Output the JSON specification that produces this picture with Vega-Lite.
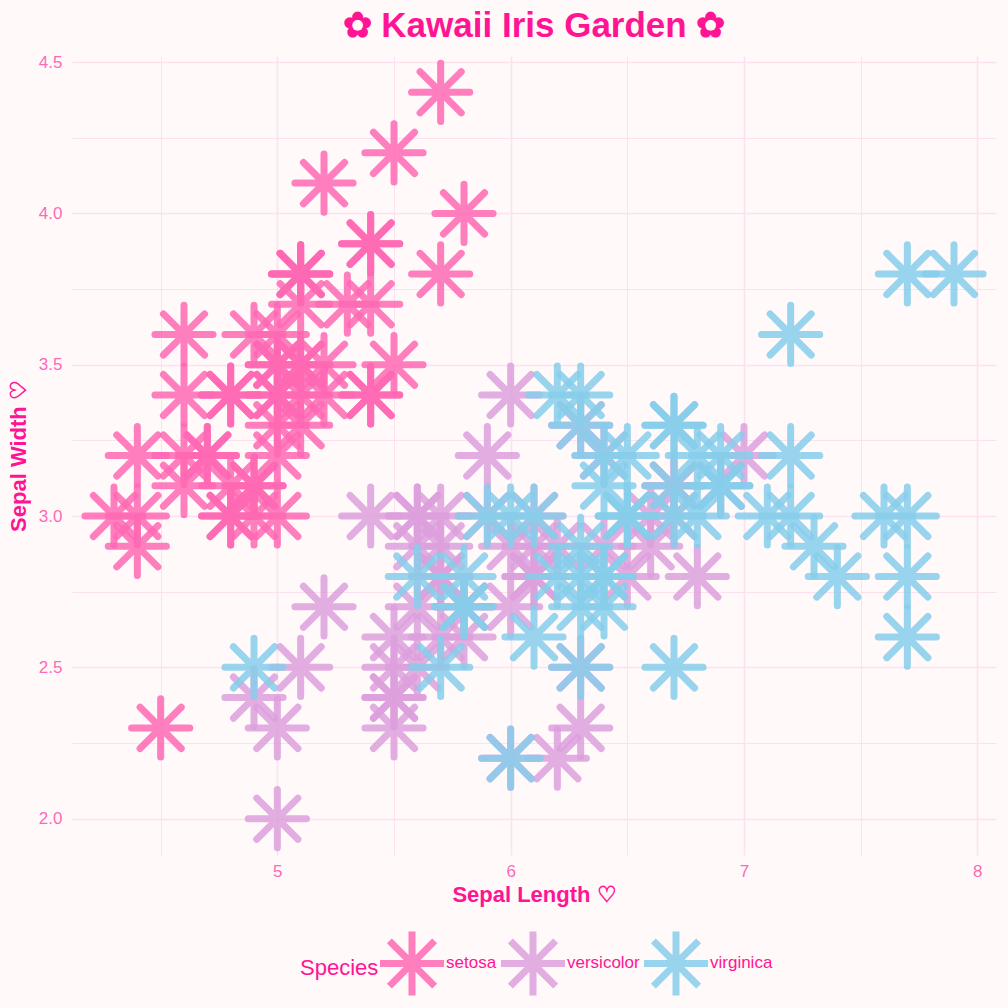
{
  "$schema": "https://vega.github.io/schema/vega-lite/v6.json",
  "width": 924,
  "height": 799,
  "autosize": {"type": "none"},
  "padding": {"left": 72, "top": 56, "right": 12, "bottom": 153},
  "background": "#fff9fa",
  "title": {
    "text": "✿ Kawaii Iris Garden ✿",
    "fontSize": 35,
    "fontWeight": "bold",
    "color": "#ff1493",
    "font": "Liberation Sans",
    "anchor": "middle",
    "offset": 5
  },
  "config": {
    "view": {"stroke": null},
    "font": "Liberation Sans",
    "axis": {
      "ticks": false,
      "domain": false,
      "labelFont": "Liberation Sans",
      "labelFontSize": 17,
      "labelColor": "#ff69b4",
      "titleFont": "Liberation Sans",
      "titleFontSize": 22,
      "titleFontWeight": "bold",
      "titleColor": "#ff1493",
      "gridColor": "#fde1ef"
    }
  },
  "data": {
    "values": [
      {"sepal_length": 5.1, "sepal_width": 3.5, "species": "setosa"},
      {"sepal_length": 4.9, "sepal_width": 3.0, "species": "setosa"},
      {"sepal_length": 4.7, "sepal_width": 3.2, "species": "setosa"},
      {"sepal_length": 4.6, "sepal_width": 3.1, "species": "setosa"},
      {"sepal_length": 5.0, "sepal_width": 3.6, "species": "setosa"},
      {"sepal_length": 5.4, "sepal_width": 3.9, "species": "setosa"},
      {"sepal_length": 4.6, "sepal_width": 3.4, "species": "setosa"},
      {"sepal_length": 5.0, "sepal_width": 3.4, "species": "setosa"},
      {"sepal_length": 4.4, "sepal_width": 2.9, "species": "setosa"},
      {"sepal_length": 4.9, "sepal_width": 3.1, "species": "setosa"},
      {"sepal_length": 5.4, "sepal_width": 3.7, "species": "setosa"},
      {"sepal_length": 4.8, "sepal_width": 3.4, "species": "setosa"},
      {"sepal_length": 4.8, "sepal_width": 3.0, "species": "setosa"},
      {"sepal_length": 4.3, "sepal_width": 3.0, "species": "setosa"},
      {"sepal_length": 5.8, "sepal_width": 4.0, "species": "setosa"},
      {"sepal_length": 5.7, "sepal_width": 4.4, "species": "setosa"},
      {"sepal_length": 5.4, "sepal_width": 3.9, "species": "setosa"},
      {"sepal_length": 5.1, "sepal_width": 3.5, "species": "setosa"},
      {"sepal_length": 5.7, "sepal_width": 3.8, "species": "setosa"},
      {"sepal_length": 5.1, "sepal_width": 3.8, "species": "setosa"},
      {"sepal_length": 5.4, "sepal_width": 3.4, "species": "setosa"},
      {"sepal_length": 5.1, "sepal_width": 3.7, "species": "setosa"},
      {"sepal_length": 4.6, "sepal_width": 3.6, "species": "setosa"},
      {"sepal_length": 5.1, "sepal_width": 3.3, "species": "setosa"},
      {"sepal_length": 4.8, "sepal_width": 3.4, "species": "setosa"},
      {"sepal_length": 5.0, "sepal_width": 3.0, "species": "setosa"},
      {"sepal_length": 5.0, "sepal_width": 3.4, "species": "setosa"},
      {"sepal_length": 5.2, "sepal_width": 3.5, "species": "setosa"},
      {"sepal_length": 5.2, "sepal_width": 3.4, "species": "setosa"},
      {"sepal_length": 4.7, "sepal_width": 3.2, "species": "setosa"},
      {"sepal_length": 4.8, "sepal_width": 3.1, "species": "setosa"},
      {"sepal_length": 5.4, "sepal_width": 3.4, "species": "setosa"},
      {"sepal_length": 5.2, "sepal_width": 4.1, "species": "setosa"},
      {"sepal_length": 5.5, "sepal_width": 4.2, "species": "setosa"},
      {"sepal_length": 4.9, "sepal_width": 3.1, "species": "setosa"},
      {"sepal_length": 5.0, "sepal_width": 3.2, "species": "setosa"},
      {"sepal_length": 5.5, "sepal_width": 3.5, "species": "setosa"},
      {"sepal_length": 4.9, "sepal_width": 3.6, "species": "setosa"},
      {"sepal_length": 4.4, "sepal_width": 3.0, "species": "setosa"},
      {"sepal_length": 5.1, "sepal_width": 3.4, "species": "setosa"},
      {"sepal_length": 5.0, "sepal_width": 3.5, "species": "setosa"},
      {"sepal_length": 4.5, "sepal_width": 2.3, "species": "setosa"},
      {"sepal_length": 4.4, "sepal_width": 3.2, "species": "setosa"},
      {"sepal_length": 5.0, "sepal_width": 3.5, "species": "setosa"},
      {"sepal_length": 5.1, "sepal_width": 3.8, "species": "setosa"},
      {"sepal_length": 4.8, "sepal_width": 3.0, "species": "setosa"},
      {"sepal_length": 5.1, "sepal_width": 3.8, "species": "setosa"},
      {"sepal_length": 4.6, "sepal_width": 3.2, "species": "setosa"},
      {"sepal_length": 5.3, "sepal_width": 3.7, "species": "setosa"},
      {"sepal_length": 5.0, "sepal_width": 3.3, "species": "setosa"},
      {"sepal_length": 7.0, "sepal_width": 3.2, "species": "versicolor"},
      {"sepal_length": 6.4, "sepal_width": 3.2, "species": "versicolor"},
      {"sepal_length": 6.9, "sepal_width": 3.1, "species": "versicolor"},
      {"sepal_length": 5.5, "sepal_width": 2.3, "species": "versicolor"},
      {"sepal_length": 6.5, "sepal_width": 2.8, "species": "versicolor"},
      {"sepal_length": 5.7, "sepal_width": 2.8, "species": "versicolor"},
      {"sepal_length": 6.3, "sepal_width": 3.3, "species": "versicolor"},
      {"sepal_length": 4.9, "sepal_width": 2.4, "species": "versicolor"},
      {"sepal_length": 6.6, "sepal_width": 2.9, "species": "versicolor"},
      {"sepal_length": 5.2, "sepal_width": 2.7, "species": "versicolor"},
      {"sepal_length": 5.0, "sepal_width": 2.0, "species": "versicolor"},
      {"sepal_length": 5.9, "sepal_width": 3.0, "species": "versicolor"},
      {"sepal_length": 6.0, "sepal_width": 2.2, "species": "versicolor"},
      {"sepal_length": 6.1, "sepal_width": 2.9, "species": "versicolor"},
      {"sepal_length": 5.6, "sepal_width": 2.9, "species": "versicolor"},
      {"sepal_length": 6.7, "sepal_width": 3.1, "species": "versicolor"},
      {"sepal_length": 5.6, "sepal_width": 3.0, "species": "versicolor"},
      {"sepal_length": 5.8, "sepal_width": 2.7, "species": "versicolor"},
      {"sepal_length": 6.2, "sepal_width": 2.2, "species": "versicolor"},
      {"sepal_length": 5.6, "sepal_width": 2.5, "species": "versicolor"},
      {"sepal_length": 5.9, "sepal_width": 3.2, "species": "versicolor"},
      {"sepal_length": 6.1, "sepal_width": 2.8, "species": "versicolor"},
      {"sepal_length": 6.3, "sepal_width": 2.5, "species": "versicolor"},
      {"sepal_length": 6.1, "sepal_width": 2.8, "species": "versicolor"},
      {"sepal_length": 6.4, "sepal_width": 2.9, "species": "versicolor"},
      {"sepal_length": 6.6, "sepal_width": 3.0, "species": "versicolor"},
      {"sepal_length": 6.8, "sepal_width": 2.8, "species": "versicolor"},
      {"sepal_length": 6.7, "sepal_width": 3.0, "species": "versicolor"},
      {"sepal_length": 6.0, "sepal_width": 2.9, "species": "versicolor"},
      {"sepal_length": 5.7, "sepal_width": 2.6, "species": "versicolor"},
      {"sepal_length": 5.5, "sepal_width": 2.4, "species": "versicolor"},
      {"sepal_length": 5.5, "sepal_width": 2.4, "species": "versicolor"},
      {"sepal_length": 5.8, "sepal_width": 2.7, "species": "versicolor"},
      {"sepal_length": 6.0, "sepal_width": 2.7, "species": "versicolor"},
      {"sepal_length": 5.4, "sepal_width": 3.0, "species": "versicolor"},
      {"sepal_length": 6.0, "sepal_width": 3.4, "species": "versicolor"},
      {"sepal_length": 6.7, "sepal_width": 3.1, "species": "versicolor"},
      {"sepal_length": 6.3, "sepal_width": 2.3, "species": "versicolor"},
      {"sepal_length": 5.6, "sepal_width": 3.0, "species": "versicolor"},
      {"sepal_length": 5.5, "sepal_width": 2.5, "species": "versicolor"},
      {"sepal_length": 5.5, "sepal_width": 2.6, "species": "versicolor"},
      {"sepal_length": 6.1, "sepal_width": 3.0, "species": "versicolor"},
      {"sepal_length": 5.8, "sepal_width": 2.6, "species": "versicolor"},
      {"sepal_length": 5.0, "sepal_width": 2.3, "species": "versicolor"},
      {"sepal_length": 5.6, "sepal_width": 2.7, "species": "versicolor"},
      {"sepal_length": 5.7, "sepal_width": 3.0, "species": "versicolor"},
      {"sepal_length": 5.7, "sepal_width": 2.9, "species": "versicolor"},
      {"sepal_length": 6.2, "sepal_width": 2.9, "species": "versicolor"},
      {"sepal_length": 5.1, "sepal_width": 2.5, "species": "versicolor"},
      {"sepal_length": 5.7, "sepal_width": 2.8, "species": "versicolor"},
      {"sepal_length": 6.3, "sepal_width": 3.3, "species": "virginica"},
      {"sepal_length": 5.8, "sepal_width": 2.7, "species": "virginica"},
      {"sepal_length": 7.1, "sepal_width": 3.0, "species": "virginica"},
      {"sepal_length": 6.3, "sepal_width": 2.9, "species": "virginica"},
      {"sepal_length": 6.5, "sepal_width": 3.0, "species": "virginica"},
      {"sepal_length": 7.6, "sepal_width": 3.0, "species": "virginica"},
      {"sepal_length": 4.9, "sepal_width": 2.5, "species": "virginica"},
      {"sepal_length": 7.3, "sepal_width": 2.9, "species": "virginica"},
      {"sepal_length": 6.7, "sepal_width": 2.5, "species": "virginica"},
      {"sepal_length": 7.2, "sepal_width": 3.6, "species": "virginica"},
      {"sepal_length": 6.5, "sepal_width": 3.2, "species": "virginica"},
      {"sepal_length": 6.4, "sepal_width": 2.7, "species": "virginica"},
      {"sepal_length": 6.8, "sepal_width": 3.0, "species": "virginica"},
      {"sepal_length": 5.7, "sepal_width": 2.5, "species": "virginica"},
      {"sepal_length": 5.8, "sepal_width": 2.8, "species": "virginica"},
      {"sepal_length": 6.4, "sepal_width": 3.2, "species": "virginica"},
      {"sepal_length": 6.5, "sepal_width": 3.0, "species": "virginica"},
      {"sepal_length": 7.7, "sepal_width": 3.8, "species": "virginica"},
      {"sepal_length": 7.7, "sepal_width": 2.6, "species": "virginica"},
      {"sepal_length": 6.0, "sepal_width": 2.2, "species": "virginica"},
      {"sepal_length": 6.9, "sepal_width": 3.2, "species": "virginica"},
      {"sepal_length": 5.6, "sepal_width": 2.8, "species": "virginica"},
      {"sepal_length": 7.7, "sepal_width": 2.8, "species": "virginica"},
      {"sepal_length": 6.3, "sepal_width": 2.7, "species": "virginica"},
      {"sepal_length": 6.7, "sepal_width": 3.3, "species": "virginica"},
      {"sepal_length": 7.2, "sepal_width": 3.2, "species": "virginica"},
      {"sepal_length": 6.2, "sepal_width": 2.8, "species": "virginica"},
      {"sepal_length": 6.1, "sepal_width": 3.0, "species": "virginica"},
      {"sepal_length": 6.4, "sepal_width": 2.8, "species": "virginica"},
      {"sepal_length": 7.2, "sepal_width": 3.0, "species": "virginica"},
      {"sepal_length": 7.4, "sepal_width": 2.8, "species": "virginica"},
      {"sepal_length": 7.9, "sepal_width": 3.8, "species": "virginica"},
      {"sepal_length": 6.4, "sepal_width": 2.8, "species": "virginica"},
      {"sepal_length": 6.3, "sepal_width": 2.8, "species": "virginica"},
      {"sepal_length": 6.1, "sepal_width": 2.6, "species": "virginica"},
      {"sepal_length": 7.7, "sepal_width": 3.0, "species": "virginica"},
      {"sepal_length": 6.3, "sepal_width": 3.4, "species": "virginica"},
      {"sepal_length": 6.4, "sepal_width": 3.1, "species": "virginica"},
      {"sepal_length": 6.0, "sepal_width": 3.0, "species": "virginica"},
      {"sepal_length": 6.9, "sepal_width": 3.1, "species": "virginica"},
      {"sepal_length": 6.7, "sepal_width": 3.1, "species": "virginica"},
      {"sepal_length": 6.9, "sepal_width": 3.1, "species": "virginica"},
      {"sepal_length": 5.8, "sepal_width": 2.7, "species": "virginica"},
      {"sepal_length": 6.8, "sepal_width": 3.2, "species": "virginica"},
      {"sepal_length": 6.7, "sepal_width": 3.3, "species": "virginica"},
      {"sepal_length": 6.7, "sepal_width": 3.0, "species": "virginica"},
      {"sepal_length": 6.3, "sepal_width": 2.5, "species": "virginica"},
      {"sepal_length": 6.5, "sepal_width": 3.0, "species": "virginica"},
      {"sepal_length": 6.2, "sepal_width": 3.4, "species": "virginica"},
      {"sepal_length": 5.9, "sepal_width": 3.0, "species": "virginica"}
    ]
  },
  "mark": {
    "type": "point",
    "shape": "M-1,0L1,0M0,-1L0,1M-0.707,-0.707L0.707,0.707M-0.707,0.707L0.707,-0.707",
    "filled": false,
    "size": 3385,
    "strokeWidth": 7,
    "strokeCap": "round",
    "opacity": 0.85
  },
  "encoding": {
    "x": {
      "field": "sepal_length",
      "type": "quantitative",
      "title": "Sepal Length ♡",
      "scale": {"domain": [4.12, 8.08], "nice": false, "zero": false},
      "axis": {
        "values": [4.5, 5, 5.5, 6, 6.5, 7, 7.5, 8],
        "labelExpr": "datum.value % 1 === 0 ? format(datum.value, 'd') : ''",
        "labelPadding": 8,
        "titlePadding": 5,
        "gridWidth": {"condition": {"test": "datum.value % 1 === 0", "value": 1.6}, "value": 1}
      }
    },
    "y": {
      "field": "sepal_width",
      "type": "quantitative",
      "title": "Sepal Width ♡",
      "scale": {"domain": [1.88, 4.52], "nice": false, "zero": false},
      "axis": {
        "values": [2, 2.25, 2.5, 2.75, 3, 3.25, 3.5, 3.75, 4, 4.25, 4.5],
        "labelExpr": "(datum.value * 2) % 1 === 0 ? format(datum.value, '.1f') : ''",
        "labelPadding": 10,
        "titlePadding": 8,
        "gridWidth": {"condition": {"test": "(datum.value * 2) % 1 === 0", "value": 1.6}, "value": 1}
      }
    },
    "stroke": {
      "field": "species",
      "type": "nominal",
      "scale": {"domain": ["setosa", "versicolor", "virginica"], "range": ["#ff69b4", "#dda0dd", "#87ceeb"]},
      "legend": {
        "title": "Species",
        "orient": "none",
        "legendX": 228,
        "legendY": 871,
        "direction": "horizontal",
        "titleOrient": "left",
        "titleFontSize": 22,
        "titleFontWeight": "normal",
        "titleColor": "#ff1493",
        "titleFont": "Liberation Sans",
        "titlePadding": -3,
        "labelFontSize": 17,
        "labelColor": "#ff1493",
        "labelFont": "Liberation Sans",
        "labelOffset": -2,
        "columnPadding": -14,
        "padding": 0,
        "symbolType": "M-1,0L1,0M0,-1L0,1M-0.707,-0.707L0.707,0.707M-0.707,0.707L0.707,-0.707",
        "symbolSize": 4100,
        "symbolStrokeWidth": 7,
        "symbolFillColor": "transparent",
        "symbolOpacity": 0.85,
        "encode": {"symbols": {"update": {"strokeCap": {"value": "round"}}}}
      }
    }
  }
}
